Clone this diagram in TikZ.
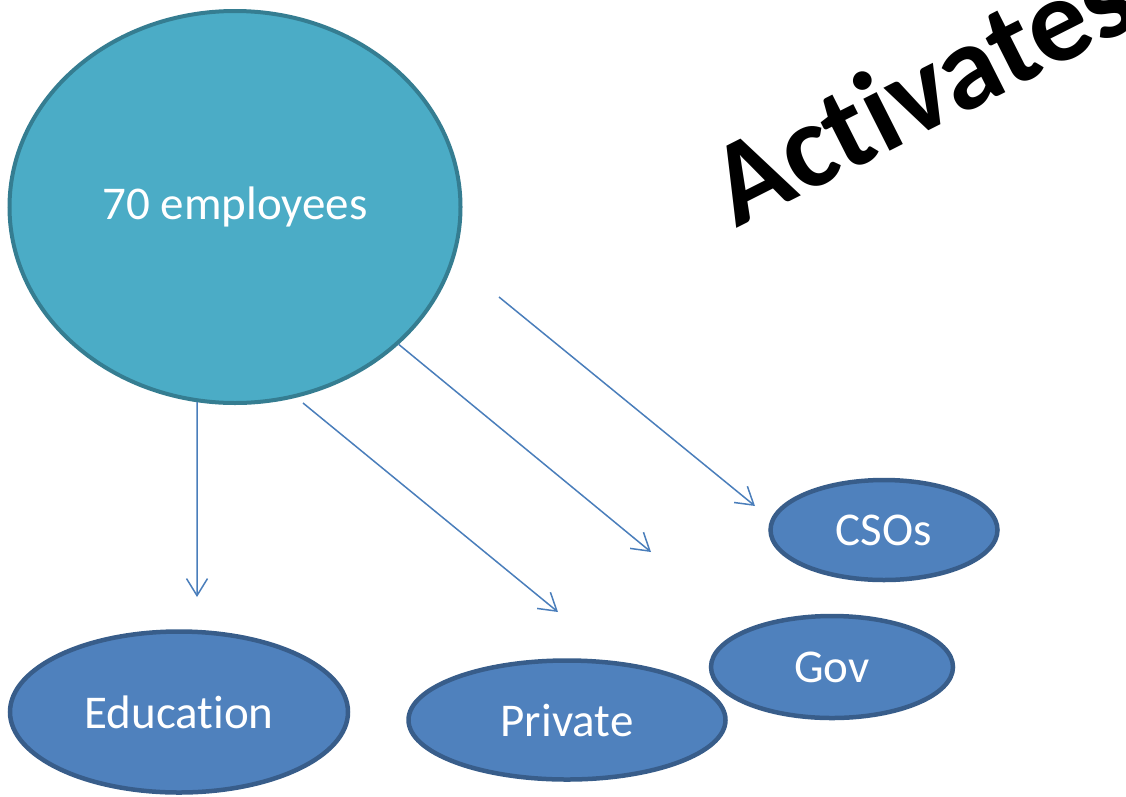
\documentclass[tikz,border=0pt]{standalone}
\usepackage{fontspec}
\setmainfont{Carlito}[Ligatures=NoCommon]
\usepackage{tikz}
\usetikzlibrary{shapes.geometric,arrows.meta}
\definecolor{staff}{HTML}{4BACC6}
\definecolor{staffEdge}{HTML}{357D91}
\definecolor{sector}{HTML}{4F81BD}
\definecolor{sectorEdge}{HTML}{385D8A}
\definecolor{link}{HTML}{4A7EBB}
\tikzset{
  staffEllipse/.style={ellipse, draw=staffEdge, fill=staff, line width=4pt, inner sep=0pt, text=white, font=\fontsize{47}{56}\selectfont},
  sectorEllipse/.style={ellipse, draw=sectorEdge, fill=sector, line width=4.5pt, inner sep=0pt, text=white, font=\fontsize{47}{56}\selectfont},
  linkArrow/.style={draw=link, line width=1.5pt, -{Straight Barb[length=17pt,width=21pt]}},
  bigLabel/.style={text=black, font=\fontsize{120}{144}\selectfont\bfseries}
}
\begin{document}
\begin{tikzpicture}[x=1pt,y=-1pt]
  \useasboundingbox (0,0) rectangle (1126,796);
  \clip (0,0) rectangle (1126,796);

  \node[staffEllipse, minimum width=451pt, minimum height=392pt] (staff) at (235,207) {70 employees};

  \node[sectorEllipse, minimum width=338pt, minimum height=161pt] (edu) at (179,712) {Education};
  \node[sectorEllipse, minimum width=317pt, minimum height=119pt] (priv) at (567,720) {Private};
  \node[sectorEllipse, minimum width=242pt, minimum height=102pt] (gov) at (832,667) {Gov};
  \node[sectorEllipse, minimum width=227pt, minimum height=100pt] (cso) at (884,530) {CSOs};

  \node[bigLabel, rotate=26.8, anchor=base west] (act) at (733,230) {Activates};

  % arrows stop short of the sectors
  \coordinate (eduTip) at (197,597);
  \coordinate (privTail) at (303,403);
  \coordinate (privTip) at (558,612);
  \coordinate (govTip) at (651,552);
  \coordinate (csoTail) at (499,297);
  \coordinate (csoTip) at (755,506);

  \draw[linkArrow] (staff.-101) -- (eduTip);
  \draw[linkArrow] (privTail) -- (privTip);
  \draw[linkArrow] (staff.-40.7) -- (govTip);
  \draw[linkArrow] (csoTail) -- (csoTip);
\end{tikzpicture}
\end{document}
